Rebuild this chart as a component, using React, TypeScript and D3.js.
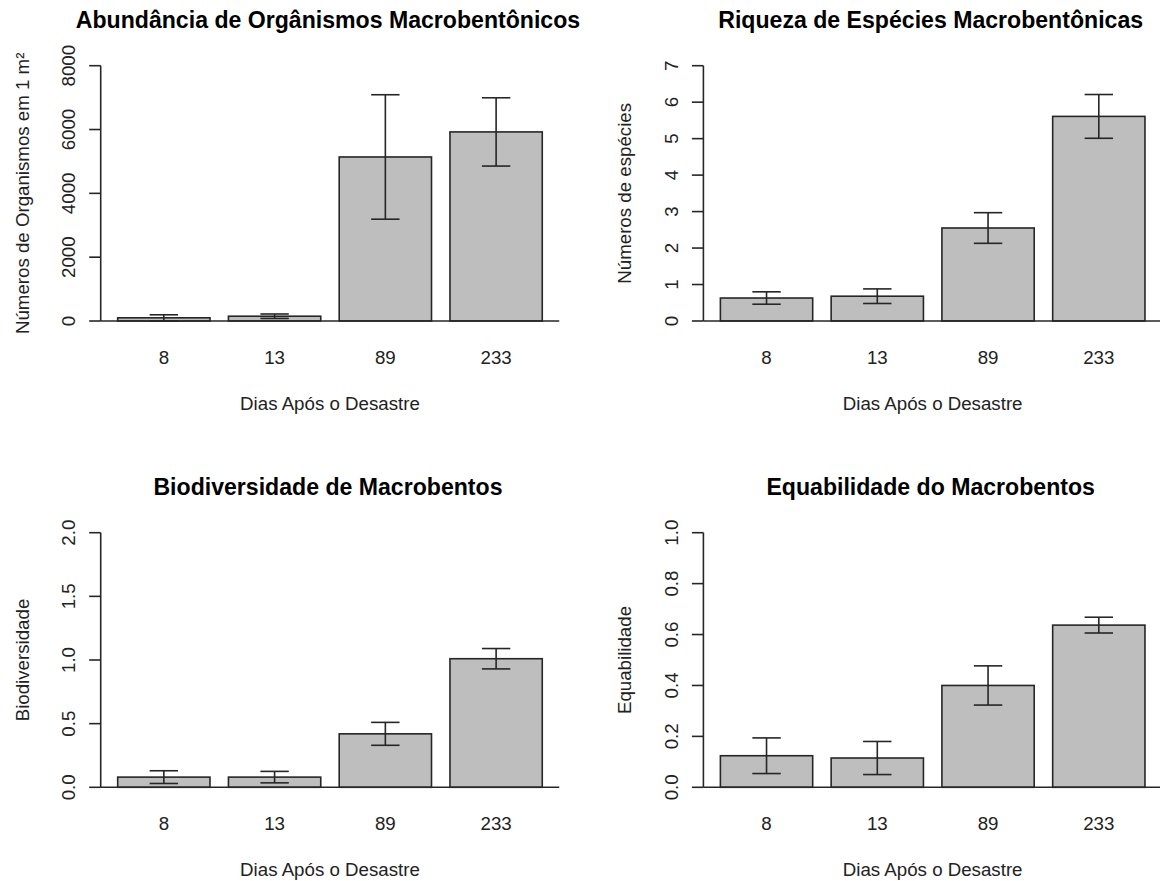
import React from 'react';
import * as d3 from 'd3';

const days = ['8', '13', '89', '233'];

const abundanceMean = [100, 150, 5140, 5925];
const abundanceSE = [95, 70, 1950, 1070];
const abundanceTicks = [0, 2000, 4000, 6000, 8000];

const richnessMean = [0.63, 0.68, 2.55, 5.61];
const richnessSE = [0.17, 0.2, 0.42, 0.6];
const richnessTicks = [0, 1, 2, 3, 4, 5, 6, 7];

const diversityMean = [0.08, 0.08, 0.42, 1.01];
const diversitySE = [0.05, 0.045, 0.09, 0.08];
const diversityTicks = [0, 0.5, 1.0, 1.5, 2.0];

const evennessMean = [0.124, 0.115, 0.4, 0.637];
const evennessSE = [0.07, 0.065, 0.077, 0.031];
const evennessTicks = [0, 0.2, 0.4, 0.6, 0.8, 1.0];

const FONT = '"Liberation Sans", Arial, Helvetica, sans-serif';
const AX = 18.7;
const TITLE = 23.1;
const LINE = '#262626';

type PanelProps = {
  title: string;
  ylab: string;
  means: number[];
  ses: number[];
  ticks: number[];
  fmt: (v: number) => string;
  left: number;
  y0: number;
  yTop: number;
};

function Panel({ title, ylab, means, ses, ticks, fmt, left, y0, yTop }: PanelProps) {
  const unit = 92.3;
  const x = d3.scaleLinear().domain([0.016, 4.984]).range([left, left + (4.984 - 0.016) * unit]);
  const yMax = ticks[ticks.length - 1];
  const y = d3.scaleLinear().domain([0, yMax]).range([y0, yTop]);
  const xl = x(0.016);
  const xr = x(4.984);
  const cx = (xl + xr) / 2;
  const cy = (y(0) + y(yMax)) / 2;
  const capHalf = 14.2;
  return (
    <g>
      <text x={cx - 2} y={yTop - 37.5} textAnchor="middle" fontFamily={FONT} fontWeight="bold" fontSize={TITLE} fill="#000">
        {title}
      </text>
      {means.map((m, i) => {
        const l = 0.2 + 1.2 * i;
        const c = l + 0.5;
        const hi = y(m + ses[i]);
        const lo = y(Math.max(0, m - ses[i]));
        return (
          <g key={i}>
            <rect x={x(l)} y={y(m)} width={x(l + 1) - x(l)} height={y(0) - y(m)} fill="#bebebe" stroke={LINE} strokeWidth={1.6} />
            <line x1={x(c)} x2={x(c)} y1={hi} y2={lo} stroke={LINE} strokeWidth={1.6} />
            <line x1={x(c) - capHalf} x2={x(c) + capHalf} y1={hi} y2={hi} stroke={LINE} strokeWidth={1.6} />
            <line x1={x(c) - capHalf} x2={x(c) + capHalf} y1={lo} y2={lo} stroke={LINE} strokeWidth={1.6} />
            <text x={x(c)} y={y0 + 42.5} textAnchor="middle" fontFamily={FONT} fontSize={AX} fill="#222">
              {days[i]}
            </text>
          </g>
        );
      })}
      <line x1={xl} x2={Math.min(xr, 1160)} y1={y(0)} y2={y(0)} stroke={LINE} strokeWidth={1.6} />
      <line x1={xl} x2={xl} y1={y(0)} y2={y(yMax)} stroke={LINE} strokeWidth={1.6} />
      {ticks.map((t) => (
        <g key={t}>
          <line x1={xl - 11.5} x2={xl} y1={y(t)} y2={y(t)} stroke={LINE} strokeWidth={1.6} />
          <text
            transform={`translate(${xl - 25.7},${y(t)}) rotate(-90)`}
            textAnchor="middle"
            fontFamily={FONT}
            fontSize={AX}
            fill="#222"
          >
            {fmt(t)}
          </text>
        </g>
      ))}
      <text x={cx} y={y0 + 89} textAnchor="middle" fontFamily={FONT} fontSize={AX} fill="#222">
        Dias Após o Desastre
      </text>
      <text transform={`translate(${xl - 72},${cy}) rotate(-90)`} textAnchor="middle" fontFamily={FONT} fontSize={AX} fill="#222">
        {ylab}
      </text>
    </g>
  );
}

export default function App() {
  const f0 = (v: number) => String(v);
  const f1 = (v: number) => v.toFixed(1);
  return (
    <svg width={1160} height={881} style={{ position: 'absolute', left: 0, top: 0, background: '#fff' }}>
      <rect width={1160} height={881} fill="#fff" />
      <Panel
        title="Abundância de Orgânismos Macrobentônicos"
        ylab="Números de Organismos em 1 m²"
        means={abundanceMean}
        ses={abundanceSE}
        ticks={abundanceTicks}
        fmt={f0}
        left={100.7}
        y0={321}
        yTop={65.7}
      />
      <Panel
        title="Riqueza de Espécies Macrobentônicas"
        ylab="Números de espécies"
        means={richnessMean}
        ses={richnessSE}
        ticks={richnessTicks}
        fmt={f0}
        left={703.4}
        y0={321}
        yTop={65.7}
      />
      <Panel
        title="Biodiversidade de Macrobentos"
        ylab="Biodiversidade"
        means={diversityMean}
        ses={diversitySE}
        ticks={diversityTicks}
        fmt={f1}
        left={100.7}
        y0={787.3}
        yTop={532.7}
      />
      <Panel
        title="Equabilidade do Macrobentos"
        ylab="Equabilidade"
        means={evennessMean}
        ses={evennessSE}
        ticks={evennessTicks}
        fmt={f1}
        left={703.4}
        y0={787.3}
        yTop={532.7}
      />
    </svg>
  );
}
